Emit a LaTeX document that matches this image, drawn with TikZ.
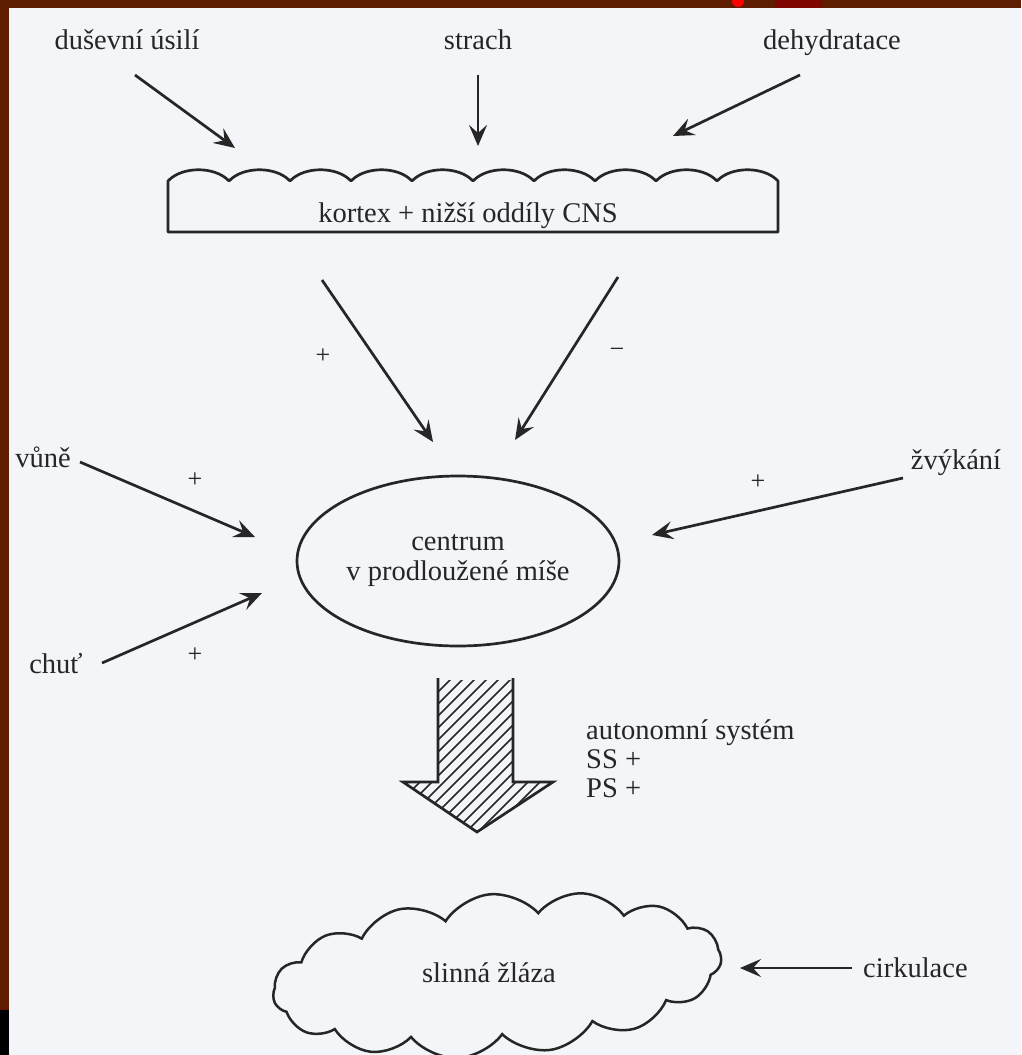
\documentclass[tikz,border=0pt]{standalone}
\usepackage{fontspec}
\setmainfont{Liberation Serif}
\usetikzlibrary{arrows.meta,shapes.symbols,shapes.geometric}
\definecolor{ink}{HTML}{262626}
\definecolor{paper}{HTML}{F3F5F8}
\definecolor{rim}{HTML}{5E1C00}
\definecolor{rimred}{HTML}{7E0600}
\tikzset{
  lbl/.style={font=\fontsize{28.5}{31}\selectfont, text=ink, inner sep=0pt},
  sgn/.style={font=\fontsize{26}{30}\selectfont, text=ink, inner sep=0pt},
  arr/.style={draw=ink, line width=2.7pt, -{Stealth[length=21pt,width=18pt,inset=8pt]}},
  outl/.style={draw=ink, line width=2.7pt, line join=round},
}
\begin{document}
\begin{tikzpicture}[x=1pt,y=-1pt]
\useasboundingbox (0,0) rectangle (1021,1055);
% paper and scan rim
\fill[paper] (0,0) rectangle (1021,1055);
\fill[rim] (0,0) rectangle (1021,8);
\fill[rimred] (775,0) rectangle (822,8);
\fill[red] (738,1) circle (6);
\fill[rim] (0,0) rectangle (9,1055);
\fill[black] (0,1010) rectangle (9,1055);

% top labels
\node[lbl, anchor=base] (dus) at (127,49) {duševní úsilí};
\node[lbl, anchor=base] (strach) at (478,49) {strach};
\node[lbl, anchor=base] (dehy) at (832,49) {dehydratace};

% kortex box with scalloped top
\path[outl] (168,232) -- (168,181)
  \foreach \k in {0,...,9} { .. controls ({168+61*\k+14},166) and ({168+61*\k+47},166) .. ({168+61*(\k+1)},181) }
  -- (778,232) -- cycle;
\node[lbl, anchor=base] (kortex) at (468,222) {kortex + nižší oddíly CNS};

\coordinate (a1s) at (135,75);  \coordinate (a1e) at (235,148);
\coordinate (a2s) at (478,75);  \coordinate (a2e) at (478,146);
\coordinate (a3s) at (800,75);  \coordinate (a3e) at (673,136);
\draw[arr] (a1s) -- (a1e);
\draw[arr] (a2s) -- (a2e);
\draw[arr] (a3s) -- (a3e);

% centre
\node[ellipse, draw=ink, line width=2.7pt, minimum width=322pt, minimum height=170pt,
      align=center, font=\fontsize{28.5}{31}\selectfont, text=ink, inner sep=0pt] (centrum) at (458,561)
      {centrum\\[-1pt]v prodloužené míše};

\coordinate (kp) at (322,280); \coordinate (kpe) at (433,442);
\coordinate (km) at (618,277); \coordinate (kme) at (515,440);
\draw[arr] (kp) -- (kpe);
\draw[arr] (km) -- (kme);
\node[sgn] (plusk) at (323,356) {+};
\node[sgn] (minusk) at (617,353) {−};

% side inputs
\node[lbl, anchor=base] (vune) at (43,467) {vůně};
\node[lbl, anchor=base] (chut) at (56,673) {chuť};
\node[lbl, anchor=base] (zvyk) at (956,469) {žvýkání};
\coordinate (vs) at (80,462);  \coordinate (ve) at (255,537);
\coordinate (cs) at (102,663); \coordinate (ce) at (262,593);
\coordinate (zs) at (903,478); \coordinate (ze) at (652,535);
\draw[arr] (vs) -- (ve);
\draw[arr] (cs) -- (ce);
\draw[arr] (zs) -- (ze);
\node[sgn] (plusv) at (195,480) {+};
\node[sgn] (plusc) at (195,655) {+};
\node[sgn] (plusz) at (758,482) {+};

% hatched big arrow
\begin{scope}
  \clip (438,680) -- (438,782) -- (403,782) -- (477,832) -- (553,782) -- (513,782) -- (513,680) -- cycle;
  \foreach \i in {150,162,...,640} { \draw[ink, line width=1.6pt] (\i,860) -- ++(220,-220); }
\end{scope}
\path[outl, line join=miter] (438,678) -- (438,782) -- (403,782) -- (477,832) -- (553,782) -- (513,782) -- (513,678);

\node[lbl, anchor=base west] (auto) at (586,739) {autonomní systém};
\node[lbl, anchor=base west] (ss) at (586,768) {SS +};
\node[lbl, anchor=base west] (ps) at (586,797) {PS +};

% salivary gland
\node[cloud, draw=ink, line width=2.5pt, cloud puffs=15, cloud puff arc=105, aspect=2.8,
      minimum width=450pt, minimum height=162pt, inner sep=0pt, rotate=5] (slinna) at (497,975) {};
\node[lbl, anchor=base] (slinnat) at (489,982) {slinná žláza};
\node[lbl, anchor=base west] (cirk) at (863,977) {cirkulace};
\coordinate (cirs) at (852,968); \coordinate (cire) at (740,968);
\draw[arr] (cirs) -- (cire);
\end{tikzpicture}
\end{document}
